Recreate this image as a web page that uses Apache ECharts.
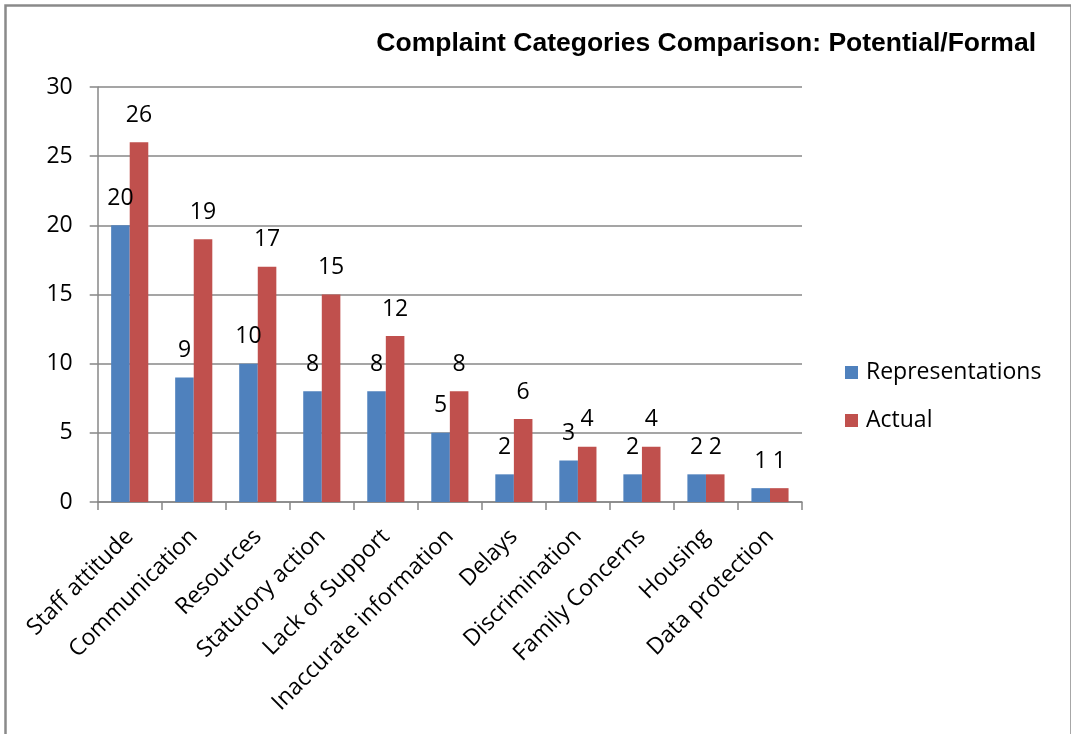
<!DOCTYPE html>
<html>
<head>
<meta charset="utf-8">
<script src="https://cdn.jsdelivr.net/npm/echarts@6/dist/echarts.min.js"></script>
<style>
  html, body { margin: 0; padding: 0; background: #fff; }
  #chart { width: 1071px; height: 734px; }
</style>
</head>
<body>
<div id="chart"></div>
<script>
// Complaint categories, potential (representations) vs formal (actual)
const categories = [
  'Staff attitude', 'Communication', 'Resources', 'Statutory action',
  'Lack of Support', 'Inaccurate information', 'Delays', 'Discrimination',
  'Family Concerns', 'Housing', 'Data protection'
];
const representations = [20, 9, 10, 8, 8, 5, 2, 3, 2, 2, 1];
const actual = [26, 19, 17, 15, 12, 8, 6, 4, 4, 2, 1];
const seriesNames = ['Representations', 'Actual'];
const yMin = 0, yMax = 30, yStep = 5;

const FONT = '"Open Sans", "DejaVu Sans", sans-serif';
const FS = 23;
const AXIS_GREY = '#878787';
const chart = echarts.init(document.getElementById('chart'), null, { renderer: 'canvas' });

const valueLabel = {
  show: true,
  position: 'top',
  distance: 17,
  fontFamily: FONT,
  fontSize: FS,
  lineHeight: 20,
  color: '#000'
};

chart.setOption({
  animation: false,
  backgroundColor: '#fff',
  title: {
    text: 'Complaint Categories Comparison: Potential/Formal',
    right: 35,
    top: 30,
    padding: 0,
    textStyle: {
      fontFamily: '"Liberation Sans", Arial, sans-serif',
      fontWeight: 'bold',
      fontSize: 26.5,
      color: '#000'
    }
  },
  legend: {
    orient: 'vertical',
    left: 845,
    top: 361,
    padding: 0,
    itemWidth: 13,
    itemHeight: 13,
    itemGap: 25,
    icon: 'rect',
    data: seriesNames,
    textStyle: {
      fontFamily: FONT,
      fontSize: FS,
      color: '#000',
      padding: [0, 0, 0, 3]
    }
  },
  grid: { left: 97.7, right: 269, top: 87, bottom: 232, containLabel: false },
  xAxis: {
    type: 'category',
    data: categories,
    boundaryGap: true,
    axisLine: { show: true, lineStyle: { color: AXIS_GREY, width: 1.5 } },
    axisTick: { show: true, length: 8, alignWithLabel: false, lineStyle: { color: AXIS_GREY, width: 1.5 } },
    axisLabel: {
      interval: 0,
      rotate: 45,
      margin: 31,
      fontFamily: FONT,
      fontSize: FS,
      color: '#000'
    }
  },
  yAxis: {
    type: 'value',
    min: yMin,
    max: yMax,
    interval: yStep,
    axisLine: { show: true, lineStyle: { color: AXIS_GREY, width: 1.5 } },
    axisTick: { show: true, length: 8, lineStyle: { color: AXIS_GREY, width: 1.5 } },
    splitLine: { show: true, lineStyle: { color: AXIS_GREY, width: 1.5 } },
    axisLabel: {
      margin: 25,
      fontFamily: FONT,
      fontSize: FS,
      color: '#000'
    }
  },
  series: [
    {
      name: seriesNames[0],
      type: 'bar',
      data: representations,
      barWidth: '29%',
      barGap: '0%',
      itemStyle: { color: '#4F81BD' },
      label: valueLabel
    },
    {
      name: seriesNames[1],
      type: 'bar',
      data: actual,
      barWidth: '29%',
      barGap: '0%',
      itemStyle: { color: '#C0504D' },
      label: valueLabel
    }
  ],
  graphic: [
    {
      type: 'rect',
      left: 3,
      top: 3,
      shape: { x: 0, y: 0, width: 1066, height: 745 },
      style: { fill: 'none', stroke: '#8a8a8a', lineWidth: 2.5 },
      silent: true
    }
  ]
});
</script>
</body>
</html>
